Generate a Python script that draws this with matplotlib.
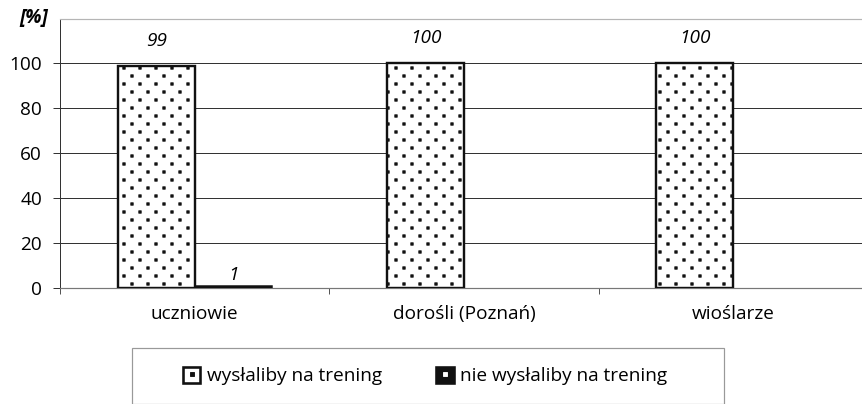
import matplotlib
matplotlib.use("Agg")
import matplotlib.pyplot as plt
import matplotlib.hatch as mhatch
from matplotlib.path import Path
from matplotlib.patches import Patch, Rectangle
from matplotlib.lines import Line2D
import numpy as np

categories = ["uczniowie", "dorośli (Poznań)", "wioślarze"]
series_names = ["wysłaliby na trening", "nie wysłaliby na trening"]
yes_values = [99, 100, 100]
no_values = [1, None, None]
y_ticks = [0, 20, 40, 60, 80, 100]

DPI = 64


def px(v):
    return v * 72.0 / DPI


class SquareDots(mhatch.HatchPatternBase):
    """Staggered square dot texture (Excel-like 'dotted' fill)."""
    half = 1.25 / 64

    def __init__(self, hatch, density):
        self.n = hatch.count('.')
        self.ncols = 4 * self.n
        self.nrows = 8 * self.n
        self.num_vertices = self.ncols * self.nrows * 5 if self.n else 0

    def set_vertices_and_codes(self, vertices, codes):
        h = self.half
        i = 0
        for r in range(self.nrows):
            y = (r + 0.5) / self.nrows
            shift = 0.25 if r % 2 == 0 else 0.75
            for c in range(self.ncols):
                xx = (c + shift) / self.ncols
                vertices[i:i + 5] = [[xx - h, y - h], [xx + h, y - h], [xx + h, y + h],
                                     [xx - h, y + h], [xx - h, y - h]]
                codes[i:i + 5] = [Path.MOVETO, Path.LINETO, Path.LINETO, Path.LINETO,
                                  Path.CLOSEPOLY]
                i += 5


mhatch._hatch_types = [t for t in mhatch._hatch_types
                       if t is not mhatch.SmallFilledCircles] + [SquareDots]

plt.rcParams['font.family'] = ['Open Sans', 'DejaVu Sans']
plt.rcParams['hatch.linewidth'] = px(0.7)
plt.rcParams['hatch.color'] = '#111111'
FS = px(19)

fig = plt.figure(figsize=(862 / DPI, 404 / DPI), dpi=DPI)
ax = fig.add_axes([60 / 862, (404 - 288) / 404, 808 / 862, 269.5 / 404])

x = np.arange(len(categories))
w = 0.2857
ax.bar(x - w / 2, yes_values, width=w, facecolor='white', edgecolor='#111111',
       linewidth=px(2.4), hatch='.', zorder=3)
no_x = [xi + w / 2 for xi, v in zip(x, no_values) if v is not None]
no_v = [v for v in no_values if v is not None]
ax.bar(no_x, no_v, width=w, facecolor='#111111', edgecolor='#111111',
       linewidth=px(1.5), zorder=3)

for xi, v in zip(x - w / 2, yes_values):
    ax.annotate(f"{v}", (xi, v), xytext=(0, 25), textcoords='offset pixels',
                ha='center', va='center', fontsize=FS, style='italic')
for xi, v in zip(no_x, no_v):
    ax.annotate(f"{v}", (xi, v), xytext=(0, 11), textcoords='offset pixels',
                ha='center', va='center', fontsize=FS, style='italic')

ax.set_xlim(-0.5, 2.5)
ax.set_ylim(0, 120)
ax.set_yticks(y_ticks)
ax.set_yticklabels([str(t) for t in y_ticks], fontsize=FS)
ax.set_xticks(np.arange(-0.5, len(categories), 1.0))
ax.set_xticklabels([])
ax.set_xticks(x, minor=True)
ax.set_xticklabels(categories, minor=True, fontsize=FS)
ax.tick_params(axis='x', which='minor', length=0, pad=px(17))
ax.tick_params(axis='x', which='major', length=px(6), width=px(1), color='#555555',
               direction='out')
ax.tick_params(axis='y', length=px(7), width=px(1), color='#333333', direction='out',
               pad=px(11))

ax.yaxis.grid(True, color='#333333', linewidth=px(1))
ax.set_axisbelow(True)
ax.spines['right'].set_visible(False)
ax.spines['top'].set_color('#b5b5b5')
ax.spines['top'].set_linewidth(px(1.2))
ax.spines['left'].set_color('#333333')
ax.spines['bottom'].set_color('#777777')
ax.spines['left'].set_linewidth(px(1))
ax.spines['bottom'].set_linewidth(px(1.2))

fig.text(34 / 862, 1 - 18 / 404, "[%]", fontsize=FS, fontweight='bold', style='italic',
         ha='center', va='center')

# legend frame
fig.patches.append(Rectangle((132 / 862, 0.0), (724 - 132) / 862, (404 - 348) / 404,
                             transform=fig.transFigure, facecolor='white',
                             edgecolor='#999999', linewidth=px(1.2)))
h1 = (Patch(facecolor='white', edgecolor='#111111', linewidth=px(2.6)),
      Line2D([], [], linestyle='none', marker='s', markersize=px(4),
             markerfacecolor='#111111', markeredgecolor='#111111'))
h2 = (Patch(facecolor='#111111', edgecolor='#111111', linewidth=px(2.6)),
      Line2D([], [], linestyle='none', marker='s', markersize=px(4),
             markerfacecolor='white', markeredgecolor='white'))
fig.legend([h1, h2], series_names, loc='center left', bbox_to_anchor=(183 / 862, 1 - 376 / 404),
           ncol=2, frameon=False, fontsize=FS, handlelength=0.9, handleheight=0.9,
           handletextpad=0.35, columnspacing=2.87, borderpad=0, borderaxespad=0)

fig.savefig("out.png", dpi=DPI)
